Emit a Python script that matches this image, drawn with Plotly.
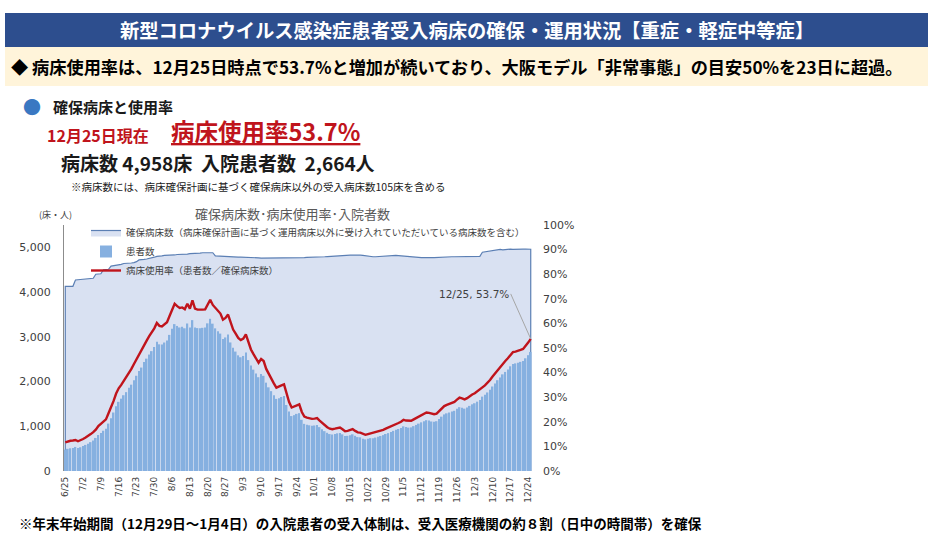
import plotly.graph_objects as go
import pandas as pd

# 6/25 - 12/25 daily
dates = pd.date_range("2020-06-25", "2020-12-25", freq="D")

# 確保病床数 (beds)
beds = [
    4130, 4130, 4130, 4130, 4270, 4275, 4280,
    4285, 4290, 4300, 4300, 4310, 4400, 4400,
    4410, 4500, 4500, 4510, 4580, 4590, 4590,
    4600, 4620, 4640, 4640, 4650, 4650, 4660,
    4680, 4720, 4720, 4730, 4740, 4750, 4760,
    4780, 4800, 4800, 4810, 4820, 4820, 4830,
    4830, 4830, 4840, 4840, 4850, 4850, 4850,
    4860, 4860, 4860, 4870, 4870, 4880, 4880,
    4890, 4890, 4880, 4810, 4805, 4800, 4800,
    4800, 4795, 4790, 4790, 4785, 4780, 4780,
    4780, 4775, 4770, 4770, 4770, 4765, 4765,
    4760, 4760, 4760, 4760, 4760, 4755, 4755,
    4755, 4755, 4760, 4760, 4760, 4760, 4765,
    4765, 4770, 4770, 4770, 4775, 4775, 4780,
    4780, 4780, 4785, 4790, 4790, 4795, 4800,
    4800, 4805, 4810, 4810, 4815, 4820, 4820,
    4825, 4825, 4830, 4830, 4825, 4820, 4810,
    4800, 4795, 4790, 4790, 4795, 4800, 4805,
    4810, 4815, 4815, 4820, 4820, 4815, 4810,
    4800, 4790, 4780, 4780, 4775, 4770, 4770,
    4770, 4770, 4775, 4780, 4770, 4770, 4775,
    4780, 4785, 4790, 4790, 4790, 4790, 4790,
    4790, 4790, 4790, 4790, 4790, 4790, 4795,
    4795, 4800, 4800, 4890, 4900, 4905, 4910,
    4920, 4935, 4950, 4955, 4945, 4955, 4960,
    4960, 4955, 4960, 4965, 4960, 4960, 4960,
    4960, 4958,
]

# 病床使用率 (%)
rate = [
    11.6, 12.0, 12.3, 12.4, 12.6, 12.1, 12.4,
    13.0, 13.6, 14.2, 15.0, 15.8, 16.8, 18.3,
    19.2, 20.0, 21.0, 23.5, 25.8, 28.5, 31.5,
    33.6, 35.0, 36.5, 38.0, 40.0, 41.5, 43.5,
    45.5, 47.4, 49.0, 51.5, 53.0, 54.8, 56.3,
    58.0, 60.2, 59.0, 58.8, 59.6, 60.5, 63.0,
    65.8, 68.0, 67.0, 66.3, 66.5, 65.8, 68.0,
    66.0, 69.4, 66.0, 65.6, 65.5, 65.6, 65.7,
    67.5, 69.6, 67.5, 66.3, 65.0, 64.0, 61.5,
    62.2, 63.6, 60.0, 57.5, 55.8, 54.1, 53.2,
    53.8, 55.5, 52.0, 49.4, 47.5, 45.8, 44.0,
    45.5, 44.7, 41.5, 39.3, 37.5, 35.6, 33.9,
    34.2, 34.8, 35.2, 31.0, 28.0, 25.8, 26.2,
    26.8, 27.1, 24.0, 22.1, 21.7, 21.4, 21.2,
    21.3, 21.5, 20.5, 19.5, 18.6, 17.8, 17.2,
    17.0, 17.2, 17.5, 17.7, 17.0, 16.2, 16.3,
    16.6, 17.0, 16.3, 15.7, 15.6, 15.0, 14.7,
    15.0, 15.3, 15.3, 15.6, 16.0, 16.3, 16.7,
    17.2, 17.6, 18.1, 18.6, 19.1, 19.5, 20.0,
    20.8, 20.5, 20.3, 20.4, 21.0, 21.6, 22.2,
    22.8, 23.3, 23.8, 23.6, 23.2, 23.1, 23.3,
    24.3, 25.4, 26.4, 26.9, 27.3, 27.8, 28.1,
    29.0, 29.8, 29.5, 29.1, 29.6, 30.4, 31.1,
    31.6, 32.3, 33.1, 34.0, 34.8, 35.8, 37.0,
    38.4, 39.7, 41.0, 42.2, 43.7, 44.7, 45.8,
    47.2, 48.3, 48.5, 48.7, 49.2, 49.6, 50.8,
    52.2, 53.7,
]
assert len(beds) == len(dates) == len(rate)

# 患者数 = 使用率 x 確保病床数 (chart's own definition)
patients = [round(r * b / 100) for r, b in zip(rate, beds)]

tick_vals = list(dates[::7])
tick_text = [f"{d.month}/{d.day}" for d in tick_vals]

JP = "Noto Sans CJK JP"
NUM = "DejaVu Sans"

# plot area in pixels: x 64..532, y 225..471
L, R, T, B = 64, 532, 225, 471
def px(x):
    return (x - L) / (R - L)
def py(y):
    return (B - y) / (B - T)

fig = go.Figure()

fig.add_trace(go.Scatter(
    x=[dates[0]] + list(dates) + [dates[-1]],
    y=[0] + beds + [0],
    mode="lines", fill="tozeroy",
    fillcolor="#d9e1f2", line=dict(color="#5b7fb4", width=1.2),
    name="確保病床数（病床確保計画に基づく運用病床以外に受け入れていただいている病床数を含む）",
    yaxis="y",
))
fig.add_trace(go.Bar(
    x=dates, y=patients, marker=dict(color="#86b0e0", line=dict(width=0)),
    name="患者数", yaxis="y2",
))
fig.add_trace(go.Scatter(
    x=dates, y=rate, mode="lines", line=dict(color="#c0141c", width=2.4),
    name="病床使用率（患者数／確保病床数）", yaxis="y3",
))

fig.update_layout(
    width=934, height=552,
    margin=dict(l=L, r=934 - R, t=T, b=552 - B),
    paper_bgcolor="white", plot_bgcolor="white",
    showlegend=True,
    legend=dict(x=px(86), y=py(218), xanchor="left", yanchor="top",
                bgcolor="rgba(0,0,0,0)", font=dict(family=JP, size=9.5, color="#404040"),
                tracegroupgap=0, itemwidth=30),
    bargap=0.35,
    xaxis=dict(type="date", range=[dates[0] - pd.Timedelta(hours=12), dates[-1] + pd.Timedelta(hours=12)],
               tickvals=tick_vals, ticktext=tick_text, tickangle=-90,
               tickfont=dict(family=NUM, size=9, color="#404040"),
               showgrid=False, showline=False, ticks="", ticklabelstandoff=3),
    yaxis=dict(range=[0, 5500], tickvals=[0, 1000, 2000, 3000, 4000, 5000],
               tickformat=",d", showgrid=False, zeroline=False,
               showline=True, linecolor="#8c8c8c", linewidth=1, ticks="",
               tickfont=dict(family=NUM, size=11, color="#404040"), ticklabelstandoff=10),
    yaxis2=dict(range=[0, 5500], overlaying="y", visible=False),
    yaxis3=dict(range=[0, 100], overlaying="y", side="right", dtick=10, ticksuffix="%",
                showgrid=False, zeroline=False, ticks="",
                tickfont=dict(family=NUM, size=11, color="#404040"), ticklabelstandoff=10),
    shapes=[
        dict(type="rect", xref="paper", yref="paper", x0=px(5), x1=px(928), y0=py(47), y1=py(13),
             fillcolor="#2d4e8e", line=dict(width=0), layer="below"),
        dict(type="rect", xref="paper", yref="paper", x0=px(5), x1=px(928), y0=py(86), y1=py(47),
             fillcolor="#fff4da", line=dict(width=0), layer="below"),
    ],
)

notes = [
    (467, 30, "<b>新型コロナウイルス感染症患者受入病床の確保・運用状況【重症・軽症中等症】</b>", 19.3, "white", "center"),
    (10, 66, "<b>◆ 病床使用率は、12月25日時点で53.7%と増加が続いており、大阪モデル「非常事態」の目安50%を23日に超過。</b>", 17.2, "black", "left"),
    (22, 106, "●", 18, "#3a78c2", "left"),
    (52, 106, "<b>確保病床と使用率</b>", 15, "#1a1a1a", "left"),
    (46, 135, "<b>12月25日現在</b>", 16, "#c0141c", "left"),
    (170, 131, "<b><u>病床使用率53.7%</u></b>", 23.5, "#c0141c", "left"),
    (60, 162, "<b>病床数 4,958床  入院患者数  2,664人</b>", 19, "#1a1a1a", "left"),
    (70, 186, "※病床数には、病床確保計画に基づく確保病床以外の受入病床数105床を含める", 10.5, "#1a1a1a", "left"),
    (292, 213, "確保病床数･病床使用率･入院者数", 13, "#595959", "center"),
    (38, 215, "(床・人)", 9, "#404040", "left"),
    (18, 523, "<b>※年末年始期間（12月29日～1月4日）の入院患者の受入体制は、受入医療機関の約８割（日中の時間帯）を確保</b>", 13.5, "black", "left"),
]
for x, y, text, size, color, anchor in notes:
    fig.add_annotation(x=px(x), y=py(y), xref="paper", yref="paper", text=text, showarrow=False,
                       xanchor=anchor, yanchor="middle", borderpad=0,
                       font=dict(family=JP, size=size, color=color))

fig.add_annotation(x=dates[-1], y=rate[-1], xref="x", yref="y3",
                   text=f"{dates[-1].month}/{dates[-1].day}, {rate[-1]}%",
                   showarrow=True, arrowhead=0, arrowwidth=1, arrowcolor="#a6a6a6",
                   ax=-20, ay=-45, xanchor="right",
                   font=dict(family=NUM, size=10.5, color="#404040"))

# drop the default 8px page margin so the figure sits at the window's corner
fig.write_html("out.html", config={"displayModeBar": False},
               post_script="document.body.style.margin='0';")
